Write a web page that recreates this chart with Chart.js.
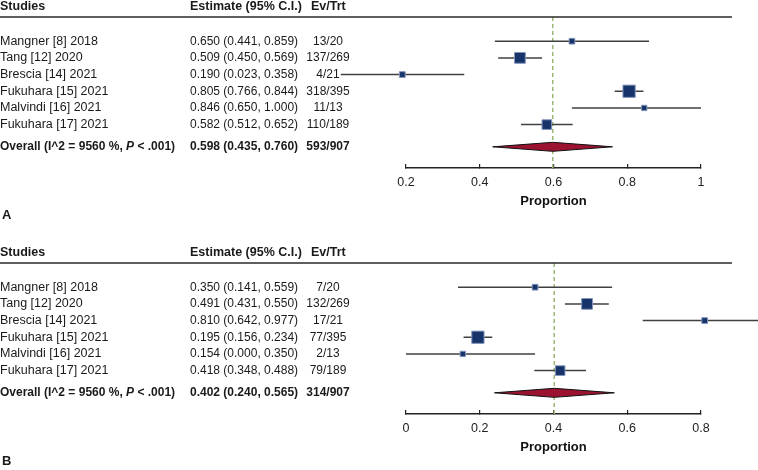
<!DOCTYPE html>
<html>
<head>
<meta charset="utf-8">
<script src="https://cdn.jsdelivr.net/npm/chart.js@4.4.0/dist/chart.umd.min.js"></script>
<style>
  html, body { margin: 0; padding: 0; background: #fff; overflow: hidden; width: 758px; height: 470px; }
  .panel { position: absolute; left: 0; width: 758px; height: 246px; }
</style>
</head>
<body>
<div class="panel" style="top:0"><canvas id="chartA" width="758" height="246"></canvas></div>
<div class="panel" style="top:246px"><canvas id="chartB" width="758" height="246"></canvas></div>
<script>
// ---- data ----
const studies = ['Mangner [8] 2018', 'Tang [12] 2020', 'Brescia [14] 2021', 'Fukuhara [15] 2021', 'Malvindi [16] 2021', 'Fukuhara [17] 2021'];
const treated = [20, 269, 21, 395, 13, 189];
const heterogeneity = 'I^2 = 9560 %';

// panel A
const estA = [0.650, 0.509, 0.190, 0.805, 0.846, 0.582];
const lowA = [0.441, 0.450, 0.023, 0.766, 0.650, 0.512];
const highA = [0.859, 0.569, 0.358, 0.844, 1.000, 0.652];
const eventsA = [13, 137, 4, 318, 11, 110];
const overallA = [0.598, 0.435, 0.760]; // estimate, low, high
const overallEventsA = 593;
const ticksA = [0.2, 0.4, 0.6, 0.8, 1];

// panel B
const estB = [0.350, 0.491, 0.810, 0.195, 0.154, 0.418];
const lowB = [0.141, 0.431, 0.642, 0.156, 0.000, 0.348];
const highB = [0.559, 0.550, 0.977, 0.234, 0.350, 0.488];
const eventsB = [7, 132, 17, 77, 2, 79];
const overallB = [0.402, 0.240, 0.565];
const overallEventsB = 314;
const ticksB = [0, 0.2, 0.4, 0.6, 0.8];

// ---- drawing ----
const FONT = '"Liberation Sans", Arial, Helvetica, sans-serif';
const Y_MIN = -1.45, Y_MAX = 7.6, OVERALL_ROW = 6.33;
const fmt = v => v.toFixed(3);

function tablePlugin(est, low, high, events, overall, overallEvents, letter) {
    return {
        id: 'table' + letter,
        afterDraw(chart) {
            const ctx = chart.ctx;
            const y = chart.scales.y;
            const top = chart.chartArea.top;
            const colEst = 190, colEv = 328;
            ctx.save();
            ctx.fillStyle = '#1a1a1a';
            ctx.textBaseline = 'middle';

            // header
            ctx.font = 'bold 12.5px ' + FONT;
            ctx.textAlign = 'left';
            ctx.fillText('Studies', 0, top - 10);
            ctx.fillText('Estimate (95% C.I.)', colEst, top - 10);
            ctx.fillText('Ev/Trt', 311, top - 10);

            // rule
            ctx.strokeStyle = '#2a2a2a';
            ctx.lineWidth = 1.5;
            ctx.beginPath();
            ctx.moveTo(0, top);
            ctx.lineTo(732, top);
            ctx.stroke();

            // study rows
            studies.forEach((name, i) => {
                const py = y.getPixelForValue(i);
                ctx.textAlign = 'left';
                ctx.font = '12.5px ' + FONT;
                ctx.fillText(name, 0, py);
                ctx.font = '12px ' + FONT;
                ctx.fillText(fmt(est[i]) + ' (' + fmt(low[i]) + ', ' + fmt(high[i]) + ')', colEst, py);
                ctx.textAlign = 'center';
                ctx.fillText(events[i] + '/' + treated[i], colEv, py);
            });

            // overall row
            const oy = y.getPixelForValue(OVERALL_ROW);
            const total = treated.reduce((a, b) => a + b, 0);
            ctx.textAlign = 'left';
            let x = 0;
            ctx.font = 'bold 12px ' + FONT;
            const p1 = 'Overall (' + heterogeneity + ', ';
            ctx.fillText(p1, x, oy); x += ctx.measureText(p1).width;
            ctx.font = 'italic bold 12px ' + FONT;
            ctx.fillText('P', x, oy); x += ctx.measureText('P').width;
            ctx.font = 'bold 12px ' + FONT;
            ctx.fillText(' < .001)', x, oy);
            ctx.fillText(fmt(overall[0]) + ' (' + fmt(overall[1]) + ', ' + fmt(overall[2]) + ')', colEst, oy);
            ctx.textAlign = 'center';
            ctx.fillText(overallEvents + '/' + total, colEv, oy);

            // panel letter
            ctx.textAlign = 'left';
            ctx.font = 'bold 13px ' + FONT;
            ctx.fillText(letter, 2, 215);
            ctx.restore();
        }
    };
}

function forest(canvasId, est, low, high, events, overall, overallEvents, ticks, letter) {
    const datasets = [];

    // study squares (size by number treated)
    datasets.push({
        data: est.map((e, i) => ({ x: e, y: i })),
        pointStyle: 'rect',
        pointRadius: treated.map(n => 2.7 + 0.3 * Math.sqrt(n)),
        backgroundColor: '#16336a',
        borderColor: '#8396bb',
        borderWidth: 1,
        showLine: false,
        clip: false
    });

    // confidence intervals
    est.forEach((e, i) => {
        datasets.push({
            data: [{ x: low[i], y: i }, { x: high[i], y: i }],
            showLine: true,
            borderColor: '#404040',
            borderWidth: 1.5,
            pointRadius: 0,
            clip: false
        });
    });

    // overall diamond
    datasets.push({
        data: [
            { x: overall[1], y: OVERALL_ROW },
            { x: overall[0], y: OVERALL_ROW - 0.27 },
            { x: overall[2], y: OVERALL_ROW },
            { x: overall[0], y: OVERALL_ROW + 0.27 },
            { x: overall[1], y: OVERALL_ROW }
        ],
        showLine: true,
        fill: 'shape',
        backgroundColor: '#9b1331',
        borderColor: '#111',
        borderWidth: 1,
        pointRadius: 0,
        clip: false
    });

    // dashed line at overall estimate
    datasets.push({
        data: [{ x: overall[0], y: Y_MIN }, { x: overall[0], y: Y_MAX }],
        showLine: true,
        borderColor: '#9db873',
        borderDash: [4, 3],
        borderWidth: 1.5,
        pointRadius: 0
    });

    return new Chart(document.getElementById(canvasId), {
        type: 'scatter',
        data: { datasets: datasets },
        options: {
            responsive: false,
            animation: false,
            devicePixelRatio: 1,
            layout: { padding: { left: 406, right: 57, top: 17, bottom: 37 } },
            plugins: { legend: { display: false }, tooltip: { enabled: false } },
            scales: {
                x: {
                    type: 'linear',
                    min: ticks[0],
                    max: ticks[ticks.length - 1],
                    afterBuildTicks: s => { s.ticks = ticks.map(v => ({ value: v })); },
                    afterFit: s => { s.height = 41; },
                    border: { display: true, color: '#222', width: 1.5 },
                    grid: { drawOnChartArea: false, drawTicks: true, tickLength: -4, color: '#222', lineWidth: 1.2 },
                    ticks: {
                        padding: 11,
                        color: '#222',
                        font: { family: FONT, size: 12.5 },
                        callback: v => String(Number(v.toFixed(2)))
                    },
                    title: {
                        display: true,
                        text: 'Proportion',
                        color: '#111',
                        font: { family: FONT, size: 13, weight: 'bold' },
                        padding: { top: 4, bottom: 0 }
                    }
                },
                y: { type: 'linear', display: false, reverse: true, min: Y_MIN, max: Y_MAX }
            }
        },
        plugins: [tablePlugin(est, low, high, events, overall, overallEvents, letter)]
    });
}

forest('chartA', estA, lowA, highA, eventsA, overallA, overallEventsA, ticksA, 'A');
forest('chartB', estB, lowB, highB, eventsB, overallB, overallEventsB, ticksB, 'B');
</script>
</body>
</html>
